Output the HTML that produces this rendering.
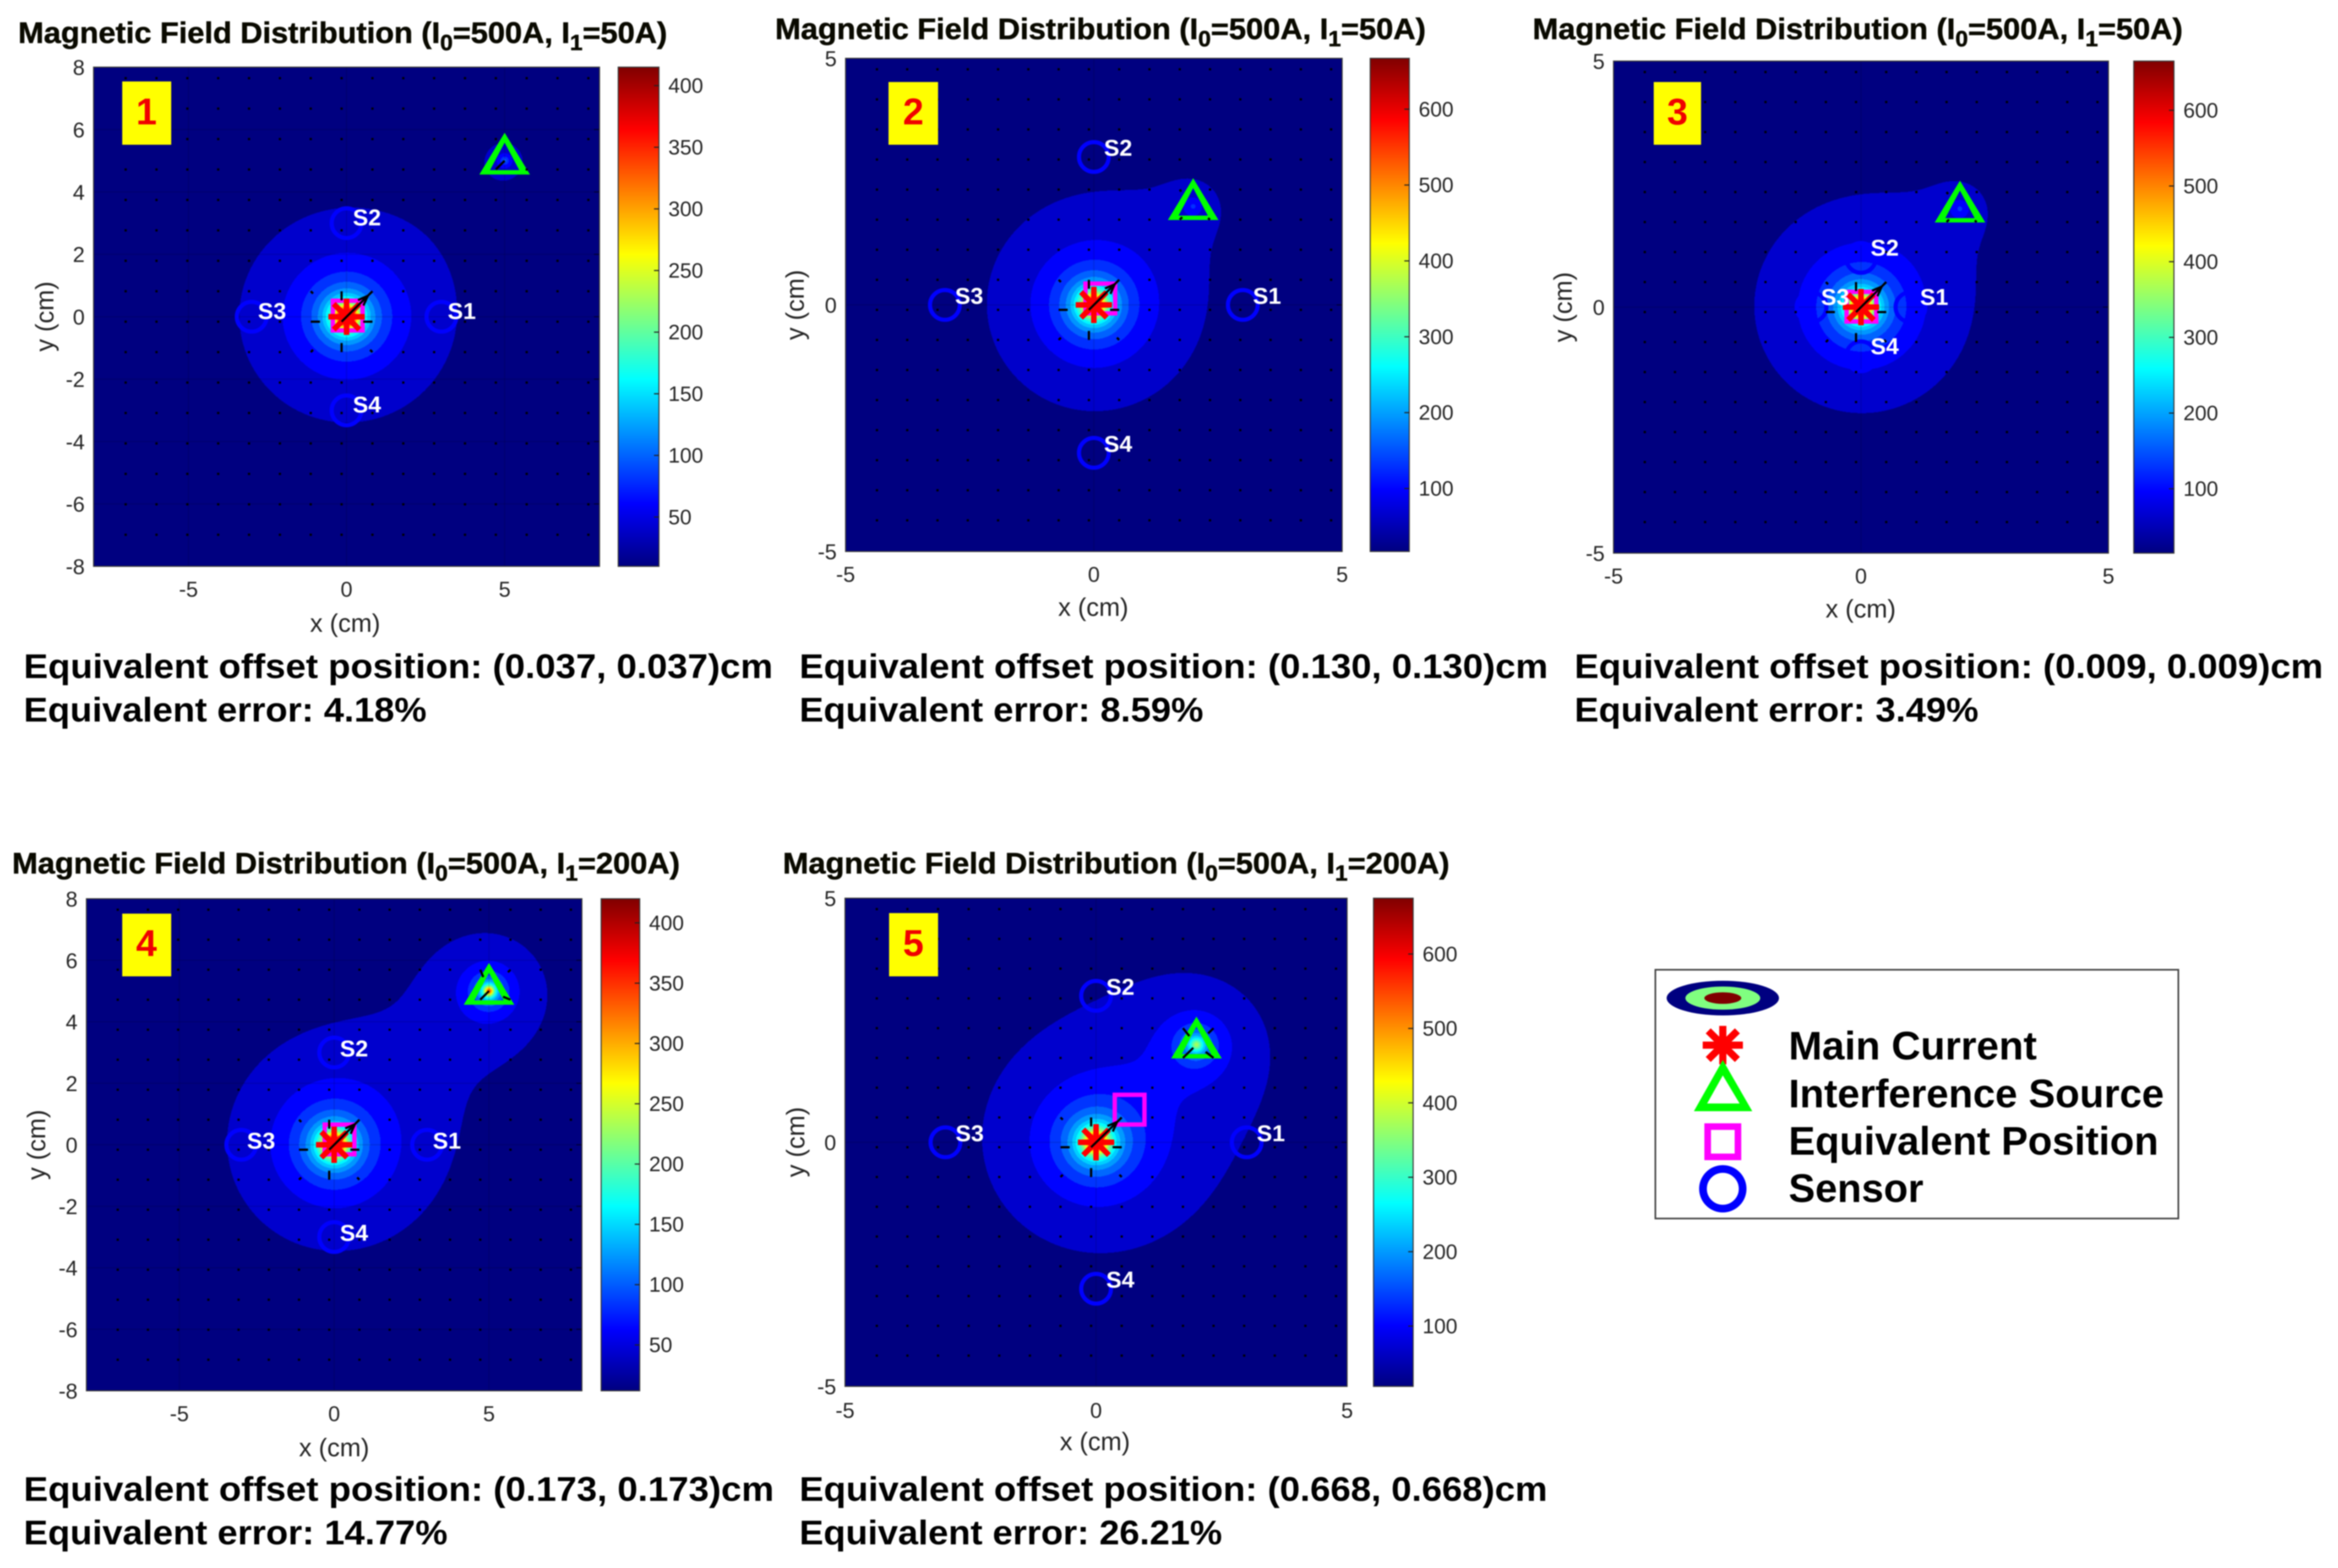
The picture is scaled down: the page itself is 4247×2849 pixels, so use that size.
<!DOCTYPE html>
<html lang="en">
<head>
<meta charset="utf-8">
<title>Magnetic Field Distribution</title>
<style>
  html, body { margin: 0; padding: 0; background: #fff; }
  #stage { position: relative; width: 4247px; height: 2849px; overflow: hidden; background: #fff; font-family: "Liberation Sans", sans-serif; filter: blur(1px); }
  canvas { position: absolute; display: block; }
  #overlay { position: absolute; left: 0; top: 0; }
  .title { font: bold 54px "Liberation Sans", sans-serif; fill: #0a0a00; stroke: #0a0a00; stroke-width: 0.8px; }
  .result { font: bold 62px "Liberation Sans", sans-serif; fill: #000; }
  .axis-title { font: 46px "Liberation Sans", sans-serif; fill: #262626; text-anchor: middle; }
  .badge-num { font: bold 68px "Liberation Sans", sans-serif; fill: #f00000; text-anchor: middle; }
  .legend-text { font: bold 72px "Liberation Sans", sans-serif; fill: #000; }
</style>
</head>
<body>
<div id="stage">
<svg id="overlay" width="4247" height="2849" viewBox="0 0 4247 2849" xmlns="http://www.w3.org/2000/svg">
  <defs>
    <linearGradient id="jet" x1="0" y1="1" x2="0" y2="0">
      <stop offset="0" stop-color="#000080"/>
      <stop offset="0.125" stop-color="#0000ff"/>
      <stop offset="0.375" stop-color="#00ffff"/>
      <stop offset="0.625" stop-color="#ffff00"/>
      <stop offset="0.875" stop-color="#ff0000"/>
      <stop offset="1" stop-color="#800000"/>
    </linearGradient>
  </defs>

  <g id="panel-layer-0"></g>
  <g id="panel-layer-1"></g>
  <g id="panel-layer-2"></g>
  <g id="panel-layer-3"></g>
  <g id="panel-layer-4"></g>

  <!-- Titles -->
  <text class="title" x="33" y="78" textLength="1179" lengthAdjust="spacingAndGlyphs">Magnetic Field Distribution (I<tspan dy="13" font-size="40">0</tspan><tspan dy="-13">=500A, I</tspan><tspan dy="13" font-size="40">1</tspan><tspan dy="-13">=50A)</tspan></text>
  <text class="title" x="1408" y="71" textLength="1182" lengthAdjust="spacingAndGlyphs">Magnetic Field Distribution (I<tspan dy="13" font-size="40">0</tspan><tspan dy="-13">=500A, I</tspan><tspan dy="13" font-size="40">1</tspan><tspan dy="-13">=50A)</tspan></text>
  <text class="title" x="2784" y="71" textLength="1181" lengthAdjust="spacingAndGlyphs">Magnetic Field Distribution (I<tspan dy="13" font-size="40">0</tspan><tspan dy="-13">=500A, I</tspan><tspan dy="13" font-size="40">1</tspan><tspan dy="-13">=50A)</tspan></text>
  <text class="title" x="22" y="1587" textLength="1213" lengthAdjust="spacingAndGlyphs">Magnetic Field Distribution (I<tspan dy="13" font-size="40">0</tspan><tspan dy="-13">=500A, I</tspan><tspan dy="13" font-size="40">1</tspan><tspan dy="-13">=200A)</tspan></text>
  <text class="title" x="1422" y="1587" textLength="1211" lengthAdjust="spacingAndGlyphs">Magnetic Field Distribution (I<tspan dy="13" font-size="40">0</tspan><tspan dy="-13">=500A, I</tspan><tspan dy="13" font-size="40">1</tspan><tspan dy="-13">=200A)</tspan></text>

  <!-- Result captions -->
  <text class="result" x="43" y="1232" textLength="1361" lengthAdjust="spacingAndGlyphs">Equivalent offset position: (0.037, 0.037)cm</text>
  <text class="result" x="43" y="1311" textLength="732" lengthAdjust="spacingAndGlyphs">Equivalent error: 4.18%</text>
  <text class="result" x="1452" y="1232" textLength="1360" lengthAdjust="spacingAndGlyphs">Equivalent offset position: (0.130, 0.130)cm</text>
  <text class="result" x="1452" y="1311" textLength="734" lengthAdjust="spacingAndGlyphs">Equivalent error: 8.59%</text>
  <text class="result" x="2860" y="1232" textLength="1360" lengthAdjust="spacingAndGlyphs">Equivalent offset position: (0.009, 0.009)cm</text>
  <text class="result" x="2860" y="1311" textLength="734" lengthAdjust="spacingAndGlyphs">Equivalent error: 3.49%</text>
  <text class="result" x="43" y="2727" textLength="1363" lengthAdjust="spacingAndGlyphs">Equivalent offset position: (0.173, 0.173)cm</text>
  <text class="result" x="43" y="2806" textLength="770" lengthAdjust="spacingAndGlyphs">Equivalent error: 14.77%</text>
  <text class="result" x="1452" y="2727" textLength="1359" lengthAdjust="spacingAndGlyphs">Equivalent offset position: (0.668, 0.668)cm</text>
  <text class="result" x="1452" y="2806" textLength="768" lengthAdjust="spacingAndGlyphs">Equivalent error: 26.21%</text>

  <!-- Axis titles -->
  <text class="axis-title" x="627" y="1148">x (cm)</text>
  <text class="axis-title" transform="translate(97 575) rotate(-90)">y (cm)</text>
  <text class="axis-title" x="1986" y="1119">x (cm)</text>
  <text class="axis-title" transform="translate(1460 554) rotate(-90)">y (cm)</text>
  <text class="axis-title" x="3380" y="1122">x (cm)</text>
  <text class="axis-title" transform="translate(2855 558) rotate(-90)">y (cm)</text>
  <text class="axis-title" x="607" y="2646">x (cm)</text>
  <text class="axis-title" transform="translate(82 2080) rotate(-90)">y (cm)</text>
  <text class="axis-title" x="1989" y="2635">x (cm)</text>
  <text class="axis-title" transform="translate(1461 2075) rotate(-90)">y (cm)</text>

  <!-- Number badges -->
  <g><rect x="222" y="148" width="89" height="115" fill="#ffff00"/><text class="badge-num" x="266" y="226">1</text></g>
  <g><rect x="1614" y="149" width="90" height="114" fill="#ffff00"/><text class="badge-num" x="1659" y="226">2</text></g>
  <g><rect x="3004" y="149" width="86" height="114" fill="#ffff00"/><text class="badge-num" x="3047" y="226">3</text></g>
  <g><rect x="222" y="1660" width="89" height="114" fill="#ffff00"/><text class="badge-num" x="266" y="1737">4</text></g>
  <g><rect x="1615" y="1659" width="89" height="115" fill="#ffff00"/><text class="badge-num" x="1659" y="1737">5</text></g>

  <!-- Legend -->
  <g>
    <rect x="3007" y="1762" width="950" height="452" fill="#fff" stroke="#444" stroke-width="3"/>
    <g>
      <ellipse cx="3129.5" cy="1813.5" rx="102" ry="31.5" fill="#000080"/>
      <ellipse cx="3129.5" cy="1813.5" rx="68" ry="21" fill="#80ff80"/>
      <ellipse cx="3129.5" cy="1813.5" rx="33.5" ry="10.5" fill="#800000"/>
    </g>
    <g stroke="#ff0000" stroke-width="13">
      <line x1="3129.5" y1="1864" x2="3129.5" y2="1934"/>
      <line x1="3093" y1="1899" x2="3166" y2="1899"/>
      <line x1="3103" y1="1873" x2="3156" y2="1925"/>
      <line x1="3103" y1="1925" x2="3156" y2="1873"/>
    </g>
    <path d="M3129.5 1926 L3183 2019 L3077 2019 Z M3129.5 1954 L3101 2005 L3160 2005 Z" fill="#00ff00" fill-rule="evenodd"/>
    <rect x="3102" y="2047" width="55" height="55" fill="none" stroke="#ff00ff" stroke-width="12"/>
    <circle cx="3129.5" cy="2160" r="36" fill="none" stroke="#0000ff" stroke-width="14"/>
    <text class="legend-text" x="3249" y="1925" textLength="451" lengthAdjust="spacingAndGlyphs">Main Current</text>
    <text class="legend-text" x="3249" y="2012" textLength="682" lengthAdjust="spacingAndGlyphs">Interference Source</text>
    <text class="legend-text" x="3249" y="2098" textLength="672" lengthAdjust="spacingAndGlyphs">Equivalent Position</text>
    <text class="legend-text" x="3249" y="2184" textLength="245" lengthAdjust="spacingAndGlyphs">Sensor</text>
  </g>
</svg>
</div>

<script>
// ---------- chart data ----------
const axisLimitCm = [8, 5, 5, 8, 5];
const xTickValues = [[-5, 0, 5], [-5, 0, 5], [-5, 0, 5], [-5, 0, 5], [-5, 0, 5]];
const yTickValues = [
  [-8, -6, -4, -2, 0, 2, 4, 6, 8],
  [-5, 0, 5],
  [-5, 0, 5],
  [-8, -6, -4, -2, 0, 2, 4, 6, 8],
  [-5, 0, 5]
];
const colorbarMin = [10, 17, 15, 12, 19];
const colorbarMax = [415, 667, 665, 420, 675];
const colorbarTicks = [
  [50, 100, 150, 200, 250, 300, 350, 400],
  [100, 200, 300, 400, 500, 600],
  [100, 200, 300, 400, 500, 600],
  [50, 100, 150, 200, 250, 300, 350, 400],
  [100, 200, 300, 400, 500, 600]
];
const mainCurrentA = [500, 500, 500, 500, 500];
const interferenceCurrentA = [50, 50, 50, 200, 200];
const interferenceXcm = [5, 2, 2, 5, 2];
const interferenceYcm = [5, 2, 2, 5, 2];
const sensorDistanceCm = [3, 3, 1, 3, 3];
const sensorNames = ['S1', 'S2', 'S3', 'S4'];
const sensorDirX = [1, 0, -1, 0];
const sensorDirY = [0, 1, 0, -1];
const equivalentOffsetCm = [0.037, 0.130, 0.009, 0.173, 0.668];
const contourBaseLevel = [30.5, 48.5, 48.5, 33, 52.5];
const contourStepLevel = [20, 32, 32, 20, 33];

// ---------- page layout (pixels) ----------
const panelLayout = [
  { l: 170,  r: 1089, t: 122,  b: 1029, cl: 1123, cr: 1197, lx: 37, ly: -11, xLab: 43, yLab: 16 },
  { l: 1536, r: 2438, t: 106,  b: 1002, cl: 2489, cr: 2560, lx: 44, ly: -17, xLab: 43, yLab: 16 },
  { l: 2931, r: 3830, t: 111,  b: 1005, cl: 3876, cr: 3949, lx: 43, ly: -19, xLab: 43, yLab: 16 },
  { l: 157,  r: 1057, t: 1633, b: 2527, cl: 1092, cr: 1162, lx: 36, ly: -8,  xLab: 43, yLab: 16 },
  { l: 1535, r: 2447, t: 1632, b: 2519, cl: 2495, cr: 2567, lx: 44, ly: -17, xLab: 45, yLab: 16 }
];

const SVGNS = 'http://www.w3.org/2000/svg';
const stage = document.getElementById('stage');
const overlay = document.getElementById('overlay');

function svgEl(tag, attrs, parent) {
  const node = document.createElementNS(SVGNS, tag);
  for (const k in attrs) node.setAttribute(k, attrs[k]);
  parent.appendChild(node);
  return node;
}
function jet(t) {
  const c = v => Math.max(0, Math.min(1, v));
  return [c(1.5 - Math.abs(4 * t - 3)), c(1.5 - Math.abs(4 * t - 2)), c(1.5 - Math.abs(4 * t - 1))].map(v => Math.round(v * 255));
}

function fieldAt(i, x, y) {
  const r0 = x * x + y * y + 0.0144;
  const dx = x - interferenceXcm[i], dy = y - interferenceYcm[i];
  const r1 = dx * dx + dy * dy + 0.0144;
  return 0.2 * mainCurrentA[i] / Math.sqrt(r0) + 0.2 * interferenceCurrentA[i] / Math.sqrt(r1);
}

function drawField(i, box) {
  const w = box.r - box.l, h = box.b - box.t;
  const cv = document.createElement('canvas');
  
  
  cv.width = w; cv.height = h;
  cv.style.left = box.l + 'px';
  cv.style.top = box.t + 'px';
  stage.insertBefore(cv, overlay);
  const ctx = cv.getContext('2d');
  const img = ctx.createImageData(w, h);
  const lim = axisLimitCm[i], base = contourBaseLevel[i], step = contourStepLevel[i];
  const vmin = colorbarMin[i], vmax = colorbarMax[i];
  let p = 0;
  for (let py = 0; py < h; py++) {
    const y = lim - (py + 0.5) / h * 2 * lim;
    for (let px = 0; px < w; px++) {
      const x = -lim + (px + 0.5) / w * 2 * lim;
      const v = fieldAt(i, x, y);
      let col;
      if (v < base) col = [0, 0, 128];
      else {
        const n = Math.floor((v - base) / step);
        const t = Math.min(1, (base + (n + 0.5) * step - vmin) / (vmax - vmin));
        col = jet(t);
      }
      img.data[p++] = col[0]; img.data[p++] = col[1]; img.data[p++] = col[2]; img.data[p++] = 255;
    }
  }
  ctx.putImageData(img, 0, 0);
}

function drawPanel(i) {
  const box = panelLayout[i];
  const g = document.getElementById('panel-layer-' + i);
  const lim = axisLimitCm[i];
  const sx = x => box.l + (x + lim) / (2 * lim) * (box.r - box.l);
  const sy = y => box.b - (y + lim) / (2 * lim) * (box.b - box.t);
  drawField(i, box);

  // gridlines, ticks and labels
  xTickValues[i].forEach(v => {
    const gl = svgEl('line', { x1: sx(v), x2: sx(v), y1: box.t, y2: box.b, stroke: 'rgba(0,0,0,0.12)', 'stroke-width': 2 }, g);
    
    
    const tk = svgEl('text', { x: sx(v), y: box.b + box.xLab + 12, 'text-anchor': 'middle', 'font-size': 39, 'font-family': '"Liberation Sans", sans-serif', fill: '#262626' }, g);
    
    
    tk.textContent = String(v);
  });
  yTickValues[i].forEach(v => {
    const gl = svgEl('line', { x1: box.l, x2: box.r, y1: sy(v), y2: sy(v), stroke: 'rgba(0,0,0,0.12)', 'stroke-width': 2 }, g);
    
    
    const tk = svgEl('line', { x1: box.r - 10, x2: box.r, y1: sy(v), y2: sy(v), stroke: 'rgba(0,0,0,0.55)', 'stroke-width': 2 }, g);
    
    
    const lb = svgEl('text', { x: box.l - box.yLab, y: sy(v) + 14, 'text-anchor': 'end', 'font-size': 39, 'font-family': '"Liberation Sans", sans-serif', fill: '#262626' }, g);
    
    
    lb.textContent = String(v);
  });

  // axes frame
  const frame = svgEl('rect', { x: box.l, y: box.t, width: box.r - box.l, height: box.b - box.t, fill: 'none', stroke: '#3a3a3a', 'stroke-width': 2 }, g);
  
  

  // colorbar
  const cb = svgEl('rect', { x: box.cl, y: box.t, width: box.cr - box.cl, height: box.b - box.t, fill: 'url(#jet)', stroke: '#3a3a3a', 'stroke-width': 2 }, g);
  
  
  const cy = v => box.b - (v - colorbarMin[i]) / (colorbarMax[i] - colorbarMin[i]) * (box.b - box.t);
  colorbarTicks[i].forEach(v => {
    const tk = svgEl('line', { x1: box.cr - 9, x2: box.cr, y1: cy(v), y2: cy(v), stroke: '#222', 'stroke-width': 2 }, g);
    
    
    const lb = svgEl('text', { x: box.cr + 17, y: cy(v) + 13, 'font-size': 38, 'font-family': '"Liberation Sans", sans-serif', fill: '#262626' }, g);
    
    
    lb.textContent = String(v);
  });

  // equivalent position square
  const eq = equivalentOffsetCm[i];
  const square = svgEl('rect', { x: sx(eq) - 27, y: sy(eq) - 27, width: 54, height: 54, fill: 'none', stroke: '#ff00ff', 'stroke-width': 8 }, g);
  
  

  // main current star
  const star = svgEl('g', { stroke: '#ff0000', 'stroke-width': 10 }, g);
  
  
  [0, 45, 90, 135].forEach(a => {
    const rad = a * Math.PI / 180, R = 33;
    svgEl('line', { x1: sx(0) - R * Math.cos(rad), y1: sy(0) - R * Math.sin(rad), x2: sx(0) + R * Math.cos(rad), y2: sy(0) + R * Math.sin(rad) }, star);
  });

  // interference triangle
  const tx = sx(interferenceXcm[i]), ty = sy(interferenceYcm[i]);
  const tri = svgEl('path', {
    d: `M${tx} ${ty - 51} L${tx + 46} ${ty + 25} L${tx - 46} ${ty + 25} Z M${tx} ${ty - 33} L${tx - 26.6} ${ty + 17} L${tx + 26.6} ${ty + 17} Z`,
    fill: '#00ff00', 'fill-rule': 'evenodd'
  }, g);
  
  

  // sensors
  const ringGroup = svgEl('g', {}, g);
  
  
  const labelSet = [];
  sensorNames.forEach((name, k) => {
    const px = sx(sensorDirX[k] * sensorDistanceCm[i]);
    const py = sy(sensorDirY[k] * sensorDistanceCm[i]);
    const ring = svgEl('circle', { cx: px, cy: py, r: 27, fill: 'none', stroke: '#0000ff', 'stroke-width': 7.5 }, ringGroup);
    
    
    labelSet.push([name, px + box.lx, py + box.ly]);
  });

  // quiver field
  const cellX = (box.r - box.l) / 16.4, cellY = (box.b - box.t) / 16.4;
  const ox = sx(0) - 9, oy = sy(0) + 9;
  const quiver = svgEl('g', { stroke: '#000', 'stroke-width': 4, 'stroke-linecap': 'butt' }, g);
  
  
  for (let m = -10; m <= 10; m++) {
    for (let n = -10; n <= 10; n++) {
      const gx = ox + n * cellX, gy = oy + m * cellY;
      if (gx < box.l + 4 || gx > box.r - 4 || gy < box.t + 4 || gy > box.b - 4) continue;
      let vx = 0, vy = 0;
      if (n === 0 && m === 0) {
        vx = cellX; vy = -cellY;
      } else {
        const srcs = [[ox, oy, mainCurrentA[i]], [tx, ty, interferenceCurrentA[i]]];
        srcs.forEach(s => {
          const ddx = (s[0] - gx) / cellX, ddy = (s[1] - gy) / cellY;
          const rr = Math.sqrt(ddx * ddx + ddy * ddy) || 0.01;
          const len = Math.min(0.3 * (s[2] / 500) / (rr * rr * rr), rr);
          vx += ddx / rr * len * cellX;
          vy += ddy / rr * len * cellY;
        });
      }
      const L = Math.hypot(vx, vy);
      if (L < 4.5) {
        const dot = svgEl('rect', { x: gx - 2, y: gy - 2, width: 4, height: 4, fill: '#000', stroke: 'none' }, quiver);
        
        
      } else {
        const seg = svgEl('line', { x1: gx, y1: gy, x2: gx + vx, y2: gy + vy }, quiver);
        
        
        if (n === 0 && m === 0) {
          const hx = gx + vx * 0.62, hy = gy + vy * 0.62;
          const px = -vy / L * 7, py = vx / L * 7;
          const head = svgEl('path', { d: `M${hx + px} ${hy + py} L${gx + vx * 0.85} ${gy + vy * 0.85} L${hx - px} ${hy - py}`, fill: 'none' }, quiver);
          
          
        }
      }
    }
  }

  // sensor labels on top
  labelSet.forEach(item => {
    const t = svgEl('text', { x: item[1], y: item[2] + 15, 'text-anchor': 'middle', 'font-size': 42, 'font-weight': 'bold', 'font-family': '"Liberation Sans", sans-serif', fill: '#ffffff' }, g);
    
    
    t.textContent = item[0];
  });
}

for (let i = 0; i < panelLayout.length; i++) drawPanel(i);
</script>
</body>
</html>
